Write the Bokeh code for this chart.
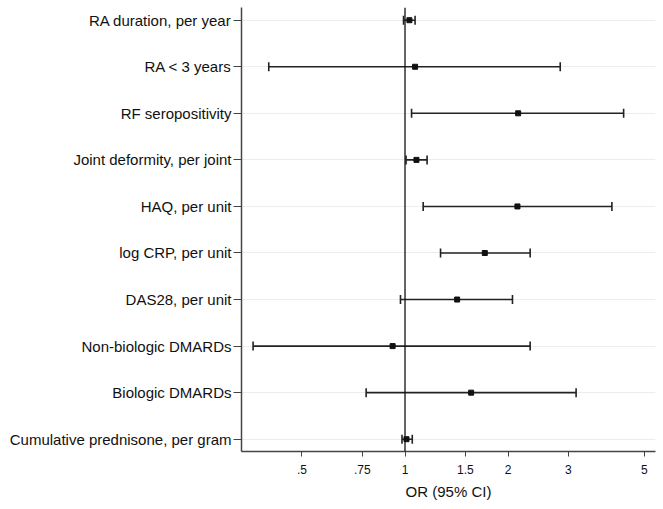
from bokeh.plotting import figure
from bokeh.models import Range1d, FixedTicker, ColumnDataSource, Whisker, TeeHead, Span
from bokeh.embed import file_html
from bokeh.resources import INLINE

labels = ["RA duration, per year", "RA < 3 years", "RF seropositivity",
          "Joint deformity, per joint", "HAQ, per unit", "log CRP, per unit",
          "DAS28, per unit", "Non-biologic DMARDs", "Biologic DMARDs",
          "Cumulative prednisone, per gram"]
odds = [1.03, 1.07, 2.14, 1.08, 2.13, 1.71, 1.42, 0.92, 1.56, 1.01]
ci_low = [0.99, 0.40, 1.045, 1.007, 1.13, 1.27, 0.97, 0.36, 0.77, 0.98]
ci_high = [1.07, 2.84, 4.35, 1.16, 4.02, 2.32, 2.06, 2.32, 3.16, 1.05]
x_ticks = [0.5, 0.75, 1, 1.5, 2, 3, 5]
x_tick_labels = [".5", ".75", "1", "1.5", "2", "3", "5"]

rows = list(range(1, len(labels) + 1))
src = ColumnDataSource(dict(y=rows, x=odds, lo=ci_low, hi=ci_high))

FONT = "Liberation Sans"

p = figure(x_axis_type="log", x_range=Range1d(0.333, 5.39), y_range=Range1d(10.264, 0.727),
           frame_width=414, frame_height=444, output_backend="svg", toolbar_location=None,
           min_border_left=241, min_border_top=7, min_border_right=2, min_border_bottom=6,
           background_fill_color="white", border_fill_color="white", outline_line_color=None)

# gridlines
p.xgrid.visible = False
p.ygrid.ticker = FixedTicker(ticks=rows)
p.ygrid.grid_line_color = "#ececec"
p.ygrid.grid_line_width = 1

# y axis
p.yaxis.ticker = FixedTicker(ticks=rows)
p.yaxis.major_label_overrides = {r: l for r, l in zip(rows, labels)}
p.yaxis.major_label_text_font = FONT
p.yaxis.major_label_text_font_size = "15px"
p.yaxis.major_label_text_color = "#111111"
p.yaxis.major_tick_out = 8
p.yaxis.major_tick_in = 0
p.yaxis.minor_tick_out = 0
p.yaxis.minor_tick_in = 0
p.yaxis.major_label_standoff = 2
p.yaxis.axis_line_color = "#444444"
p.yaxis.axis_line_width = 1.5
p.yaxis.major_tick_line_color = "#444444"

# x axis
p.xaxis.ticker = FixedTicker(ticks=x_ticks)
p.xaxis.major_label_overrides = {t: l for t, l in zip(x_ticks, x_tick_labels)}
p.xaxis.major_label_text_font = FONT
p.xaxis.major_label_text_font_size = "12px"
p.xaxis.major_label_text_color = "#111111"
p.xaxis.major_tick_out = 5
p.xaxis.major_tick_in = 0
p.xaxis.minor_tick_out = 0
p.xaxis.minor_tick_in = 0
p.xaxis.major_label_standoff = 8
p.xaxis.axis_line_color = "#444444"
p.xaxis.axis_line_width = 1.5
p.xaxis.major_tick_line_color = "#444444"
p.xaxis.axis_label = "OR (95% CI)"
p.xaxis.axis_label_text_font = FONT
p.xaxis.axis_label_text_font_size = "15px"
p.xaxis.axis_label_text_font_style = "normal"
p.xaxis.axis_label_text_color = "#111111"
p.xaxis.axis_label_standoff = 6

# reference line at OR = 1
p.add_layout(Span(location=1, dimension="height", line_color="#111111", line_width=1.3))

# confidence intervals
w = Whisker(source=src, base="y", lower="lo", upper="hi", dimension="width",
            line_color="#222222", line_width=1.6,
            lower_head=TeeHead(size=9, line_color="#222222", line_width=1.6),
            upper_head=TeeHead(size=9, line_color="#222222", line_width=1.6))
p.add_layout(w)

p.scatter(x="x", y="y", source=src, marker="square", size=5,
          fill_color="#111111", line_color="#111111")

open("out.html", "w").write(file_html(p, INLINE))
